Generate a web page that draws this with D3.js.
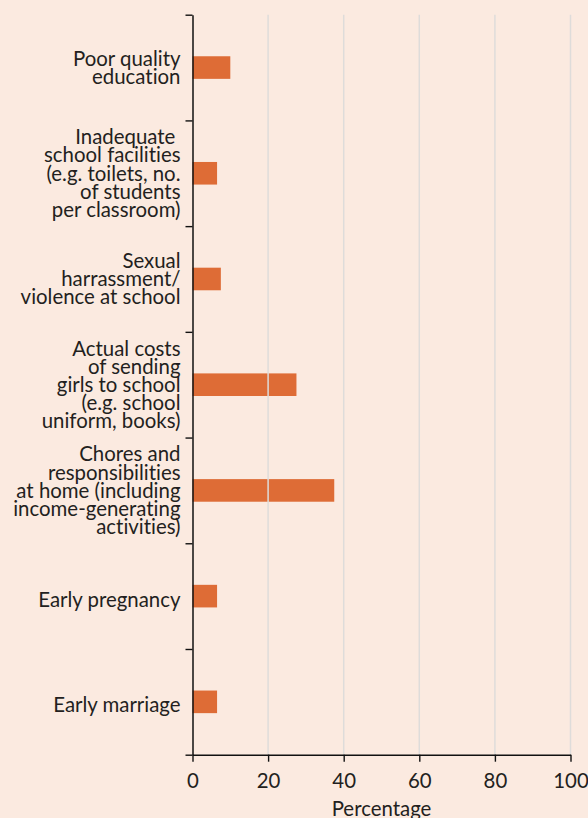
<!DOCTYPE html>
<html>
<head>
<meta charset="utf-8">
<script src="https://unpkg.com/d3@7/dist/d3.min.js"></script>
<style>
  html, body { margin: 0; padding: 0; background: #fbeae0; }
  svg { display: block; font-family: Lato, "Open Sans", sans-serif; font-variant-ligatures: none; font-feature-settings: "liga" 0; }
</style>
</head>
<body>
<div id="chart"></div>
<script>
const categories = [
  ["Poor quality", "education"],
  ["Inadequate\u00a0", "school facilities", "(e.g. toilets, no.", "of students", "per classroom)"],
  ["Sexual", "harrassment/", "violence at school"],
  ["Actual costs", "of sending", "girls to school", "(e.g. school", "uniform, books)"],
  ["Chores and", "responsibilities", "at home (including", "income-generating", "activities)"],
  ["Early pregnancy"],
  ["Early marriage"]
];
const values = [10, 6.5, 7.5, 27.5, 37.5, 6.5, 6.5];
const xTicks = [0, 20, 40, 60, 80, 100];
const xTitle = "Percentage";

const W = 588, H = 818;
const margin = {top: 14.7, right: 17.5, bottom: 63.3, left: 192.5};
const width = W - margin.left - margin.right;
const height = H - margin.top - margin.bottom;
const fontSize = "20.4px";

const svg = d3.select("#chart").append("svg")
  .attr("width", W)
  .attr("height", H);

const g = svg.append("g")
  .attr("transform", `translate(${margin.left},${margin.top})`);

const x = d3.scaleLinear().domain([0, 100]).range([0, width]);
const y = d3.scaleBand().domain(d3.range(categories.length)).range([0, height]);
const yEdge = d3.scaleLinear().domain([0, categories.length]).range([0, height]);

// bars
g.selectAll("rect.bar")
  .data(values)
  .join("rect")
  .attr("class", "bar")
  .attr("x", x(0))
  .attr("y", (d, i) => y(i) + y.bandwidth() / 2 - 11.3)
  .attr("width", d => x(d) - x(0))
  .attr("height", 22.6)
  .attr("fill", "#de6c36");

// gridlines over the bars
g.selectAll("line.grid")
  .data(xTicks.filter(d => d > 0))
  .join("line")
  .attr("class", "grid")
  .attr("x1", d => x(d)).attr("x2", d => x(d))
  .attr("y1", 0).attr("y2", height)
  .attr("stroke", "#dedcda")
  .attr("stroke-width", 1.5);

// y axis with ticks at the category edges
const yAxis = g.append("g")
  .call(d3.axisLeft(yEdge).tickValues(d3.range(categories.length + 1)).tickFormat("").tickSize(7).tickSizeOuter(0));
yAxis.select(".domain").attr("stroke", "#111").attr("stroke-width", 1.5);
yAxis.selectAll(".tick line").attr("stroke", "#111").attr("stroke-width", 1.4);

// x axis
const xAxis = g.append("g")
  .attr("transform", `translate(0,${height})`)
  .call(d3.axisBottom(x).tickValues(xTicks).tickSize(7).tickSizeOuter(0));
xAxis.select(".domain").attr("stroke", "#111").attr("stroke-width", 1.5);
xAxis.selectAll(".tick text")
  .attr("y", 33.6)
  .attr("dy", null)
  .attr("fill", "#231f20")
  .style("font-size", fontSize)
  .style("font-family", "Lato, 'Open Sans', sans-serif");
xAxis.selectAll(".tick line").attr("stroke", "#111").attr("stroke-width", 1.4);

// x title
g.append("text")
  .attr("x", width / 2)
  .attr("y", height + 61.3)
  .attr("text-anchor", "middle")
  .attr("fill", "#231f20")
  .style("font-size", fontSize)
  .text(xTitle);

// category labels
const lineH = 18.2;
const labels = g.selectAll("text.cat")
  .data(categories)
  .join("text")
  .attr("class", "cat")
  .attr("text-anchor", "end")
  .attr("fill", "#231f20")
  .style("font-size", fontSize)
  .style("white-space", "pre")
  .attr("transform", (d, i) => {
    const base = y(i) + y.bandwidth() / 2 - (d.length - 1) * lineH / 2 + (d.length === 1 ? 10.5 : 7.3);
    return `translate(-12,${base})`;
  });

labels.selectAll("tspan")
  .data(d => d)
  .join("tspan")
  .attr("x", 0)
  .attr("y", (d, j) => j * lineH)
  .text(d => d);
</script>
</body>
</html>
